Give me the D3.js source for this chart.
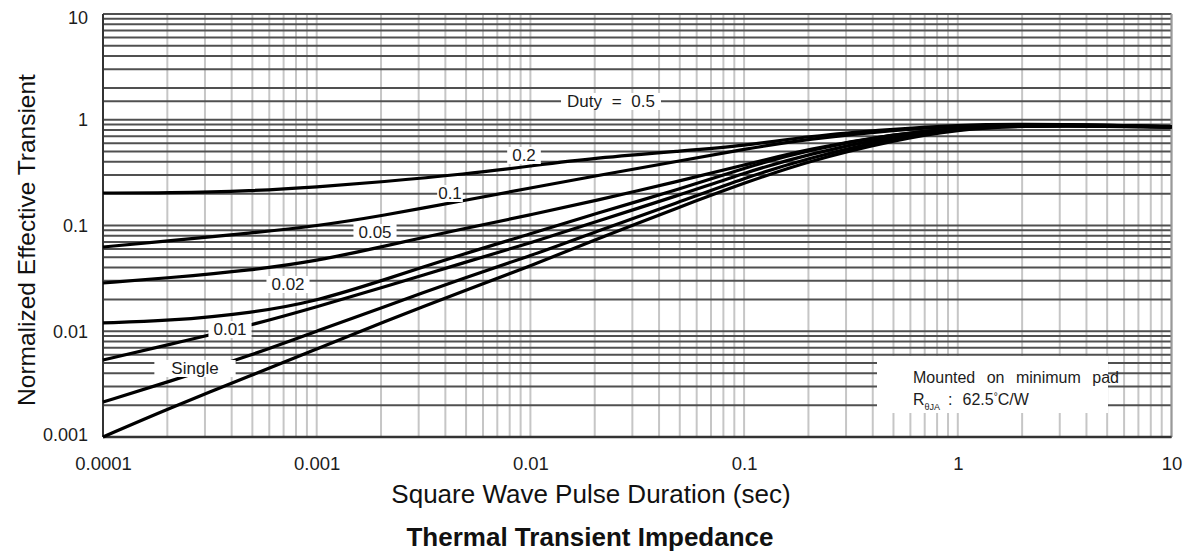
<!DOCTYPE html>
<html>
<head>
<meta charset="utf-8">
<script src="https://cdn.jsdelivr.net/npm/d3@7/dist/d3.min.js"></script>
<style>
  html, body { margin: 0; padding: 0; background: #fff; }
  svg { display: block; font-family: "Liberation Sans", Arial, sans-serif; }
</style>
</head>
<body>
<svg id="chart" width="1195" height="553"></svg>
<script>
// Square-wave pulse duration (s) at which each curve is sampled
const durations = [1e-4, 2e-4, 5e-4, 1e-3, 2e-3, 5e-3, 1e-2, 2e-2, 5e-2, 0.1, 0.2, 0.5, 1, 2, 5, 10];

// Normalized effective transient thermal impedance, one array per duty cycle
const duty05  = [0.203, 0.203, 0.212, 0.231, 0.258, 0.307, 0.365, 0.435, 0.506, 0.565, 0.702, 0.818, 0.892, 0.912, 0.892, 0.854];
const duty02  = [0.0626, 0.0714, 0.0849, 0.0989, 0.123, 0.174, 0.226, 0.294, 0.407, 0.529, 0.658, 0.80, 0.873, 0.905, 0.89, 0.86];
const duty01  = [0.0286, 0.0319, 0.0379, 0.0462, 0.0626, 0.0947, 0.126, 0.171, 0.264, 0.373, 0.529, 0.733, 0.836, 0.892, 0.885, 0.858];
const duty005 = [0.0120, 0.0125, 0.0149, 0.0193, 0.0299, 0.0550, 0.0831, 0.129, 0.221, 0.350, 0.518, 0.733, 0.836, 0.89, 0.882, 0.856];
const duty002 = [0.00535, 0.00741, 0.01146, 0.0170, 0.0257, 0.0452, 0.0683, 0.108, 0.194, 0.314, 0.475, 0.702, 0.836, 0.885, 0.878, 0.855];
const duty001 = [0.00214, 0.00331, 0.00596, 0.01005, 0.0166, 0.0326, 0.0515, 0.0868, 0.167, 0.281, 0.435, 0.67, 0.82, 0.88, 0.874, 0.852];
const single  = [0.00100, 0.00184, 0.00386, 0.00679, 0.01197, 0.0245, 0.0414, 0.0730, 0.150, 0.252, 0.407, 0.64, 0.81, 0.875, 0.87, 0.85];

const seriesList = [duty05, duty02, duty01, duty005, duty002, duty001, single];

// Curve labels
const curveLabels = ["Duty = 0.5", "0.2", "0.1", "0.05", "0.02", "0.01", "Single"];

// Axis tick labels
const xTickLabels = ["0.0001", "0.001", "0.01", "0.1", "1", "10"];
const yTickLabels = ["0.001", "0.01", "0.1", "1", "10"];

// Extra grid value drawn in the top decade
const extraGrid = [1.5];

// Text
const xTitle = "Square Wave Pulse Duration (sec)";
const yTitle = "Normalized Effective Transient";
const chartTitle = "Thermal Transient Impedance";
const noteLine1 = "Mounted on minimum pad";

// ---- layout ----
const plot = { left: 103, right: 1171.5, top: 14, bottom: 437 };

const svg = d3.select("#chart");

const x = d3.scaleLog().domain([1e-4, 10]).range([plot.left, plot.right]);
const y = d3.scaleLog().domain([0.001, 10]).range([plot.bottom, plot.top]);

// Label placement (centre x, baseline y, horizontal mask padding, word spacing)
const labelPlacement = [
  { cx: 611, cy: 107, pad: 6, ws: 5 },
  { cx: 524, cy: 161, pad: 5, ws: 0 },
  { cx: 450, cy: 199, pad: 1, ws: 0 },
  { cx: 375, cy: 238, pad: 5, ws: 0 },
  { cx: 288, cy: 290, pad: 5, ws: 0 },
  { cx: 230, cy: 335, pad: 5, ws: 0 },
  { cx: 195, cy: 374, pad: 17, ws: 0 }
];

// ---- grid ----
const grid = svg.append("g");

// vertical lines (light)
grid.selectAll("line.v")
  .data(x.ticks())
  .join("line")
  .attr("class", "v")
  .attr("x1", d => x(d)).attr("x2", d => x(d))
  .attr("y1", plot.top).attr("y2", plot.bottom)
  .attr("stroke", "#c6c6c6")
  .attr("stroke-width", 2);

// horizontal lines (dark)
const hVals = y.ticks().concat(extraGrid);
grid.selectAll("line.h")
  .data(hVals)
  .join("line")
  .attr("class", "h")
  .attr("x1", plot.left).attr("x2", plot.right)
  .attr("y1", d => y(d)).attr("y2", d => y(d))
  .attr("stroke", "#505050")
  .attr("stroke-width", 2);

// frame
svg.append("line")
  .attr("x1", plot.left).attr("x2", plot.left)
  .attr("y1", plot.top).attr("y2", plot.bottom)
  .attr("stroke", "#333").attr("stroke-width", 2);
svg.append("line")
  .attr("x1", plot.right).attr("x2", plot.right)
  .attr("y1", plot.top).attr("y2", plot.bottom)
  .attr("stroke", "#999").attr("stroke-width", 2);
svg.append("line")
  .attr("x1", plot.left).attr("x2", plot.right)
  .attr("y1", plot.bottom).attr("y2", plot.bottom)
  .attr("stroke", "#333").attr("stroke-width", 2.5);

// ---- curves ----
const line = d3.line()
  .x((d, i) => x(durations[i]))
  .y(d => y(d))
  .curve(d3.curveBasis);

svg.append("g")
  .selectAll("path")
  .data(seriesList)
  .join("path")
  .attr("d", line)
  .attr("fill", "none")
  .attr("stroke", "#000")
  .attr("stroke-width", 3.2)
  .attr("stroke-linejoin", "round");

// ---- curve labels with white masks ----
const lab = svg.append("g");
curveLabels.forEach((txt, i) => {
  const p = labelPlacement[i];
  const g = lab.append("g");
  const rect = g.append("rect").attr("fill", "#fff");
  const t = g.append("text")
    .attr("x", p.cx).attr("y", p.cy)
    .attr("text-anchor", "middle")
    .attr("font-size", 17)
    .attr("fill", "#1c1c1c")
    .style("word-spacing", p.ws + "px")
    .text(txt);
  const b = t.node().getBBox();
  rect.attr("x", b.x - p.pad).attr("y", b.y + 1)
      .attr("width", b.width + 2 * p.pad).attr("height", b.height - 2);
});

// ---- note box ----
svg.append("rect")
  .attr("x", 877).attr("y", 356).attr("width", 231).attr("height", 57)
  .attr("fill", "#fff");
svg.append("text")
  .attr("x", 913).attr("y", 383)
  .attr("font-size", 16)
  .attr("fill", "#1c1c1c")
  .style("word-spacing", "7px")
  .text(noteLine1);
const note2 = svg.append("text")
  .attr("x", 913).attr("y", 405)
  .attr("font-size", 16)
  .attr("fill", "#1c1c1c");
note2.append("tspan").text("R");
note2.append("tspan").attr("font-size", 9).attr("dy", 5).text("θJA");
note2.append("tspan").attr("dy", -5).attr("dx", 8).text(":");
note2.append("tspan").attr("dx", 10).text("62.5");
note2.append("tspan").attr("dx", 0).attr("dy", -5).attr("font-size", 10).text("°");
note2.append("tspan").attr("dy", 5).attr("dx", 0).text("C/W");

// ---- axes ----
const yAxis = d3.axisLeft(y)
  .tickValues(yTickLabels.map(Number))
  .tickFormat((d, i) => yTickLabels[i])
  .tickSize(0)
  .tickPadding(15);
const gy = svg.append("g").attr("transform", `translate(${plot.left},0)`).call(yAxis);
gy.select(".domain").remove();
gy.selectAll("text").attr("font-size", 18).attr("fill", "#1c1c1c")
  .attr("font-family", "Liberation Sans, Arial, sans-serif");
gy.selectAll(".tick").filter(d => d === 10).select("text").attr("dy", "0.55em");
gy.selectAll(".tick").filter(d => d === 0.001).select("text").attr("dy", "0.2em");

const xAxis = d3.axisBottom(x)
  .tickValues(xTickLabels.map(Number))
  .tickFormat((d, i) => xTickLabels[i])
  .tickSize(0)
  .tickPadding(20);
const gx = svg.append("g").attr("transform", `translate(0,${plot.bottom})`).call(xAxis);
gx.select(".domain").remove();
gx.selectAll("text").attr("font-size", 18.5).attr("fill", "#1c1c1c")
  .attr("font-family", "Liberation Sans, Arial, sans-serif");

// ---- titles ----
svg.append("text")
  .attr("x", 591).attr("y", 503)
  .attr("text-anchor", "middle")
  .attr("font-size", 26)
  .attr("fill", "#111")
  .text(xTitle);

svg.append("text")
  .attr("x", 590).attr("y", 546)
  .attr("text-anchor", "middle")
  .attr("font-size", 26)
  .attr("font-weight", "bold")
  .attr("fill", "#111")
  .text(chartTitle);

svg.append("text")
  .attr("transform", "translate(35,240) rotate(-90)")
  .attr("text-anchor", "middle")
  .attr("font-size", 24.5)
  .attr("fill", "#111")
  .text(yTitle);
</script>
</body>
</html>
